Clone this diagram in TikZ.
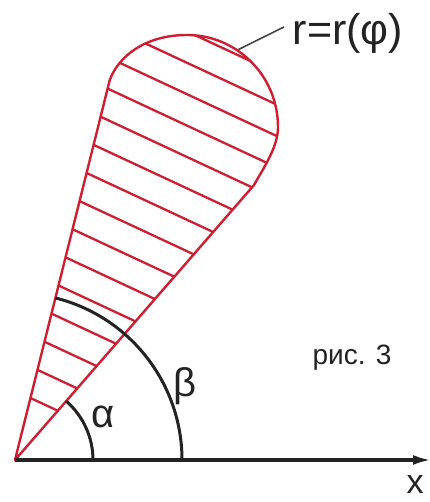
\documentclass[tikz,border=0pt]{standalone}
\usepackage{fontspec}
\setmainfont{Liberation Sans}
\usetikzlibrary{arrows.meta}
\definecolor{hred}{RGB}{205,30,50}
\definecolor{ink}{RGB}{35,35,35}
\begin{document}
\begin{tikzpicture}[x=1pt,y=1pt,
  redline/.style={draw=hred, line width=2.4pt, line join=round},
  hatchline/.style={draw=hred, line width=2.3pt},
  arcline/.style={draw=ink, line width=3pt},
  axisline/.style={draw=ink, line width=3.2pt, -{Latex[length=18pt,width=10pt]}},
  leader/.style={draw=ink!85, line width=1.6pt},
  lbl/.style={text=ink, inner sep=0pt}]
\useasboundingbox (0,0) rectangle (429,502);
\fill[white] (0,0) rectangle (429,502);
\coordinate (O) at (15,42);
\coordinate (A) at (253.8,316.7);
\coordinate (R) at (278,375);
\coordinate (T) at (187,467);
\coordinate (B) at (109.8,422.1);
\coordinate (axisend) at (431,42);
\coordinate (lead) at (238.5,452.5);
\coordinate (leadend) at (284,475);
% hatching
\begin{scope}
  \clip (O) -- (A) .. controls (263.6,334) and (278,355) .. (R)
        .. controls (278,426) and (237,467) .. (T)
        .. controls (145,467) and (118.5,445.5) .. (B) -- cycle;
  \foreach \k in {0,...,16} {
    \draw[hatchline] (0,118.2+31.4*\k) -- ++(-25:700);
  }
\end{scope}
% outline
\draw[redline] (O) -- (A) .. controls (263.6,334) and (278,355) .. (R)
        .. controls (278,426) and (237,467) .. (T)
        .. controls (145,467) and (118.5,445.5) .. (B) -- cycle;
% angle arcs
\draw[arcline] (O) ++(78,0) arc[start angle=0, end angle=49, radius=78];
\draw[arcline] (O) ++(167,0) arc[start angle=0, end angle=76, radius=167];
% axis
\draw[axisline] (O) -- (axisend);
% labels
\node[lbl, font=\fontsize{40}{44}\selectfont] (alpha) at (103.5,85) {α};
\node[lbl, font=\fontsize{40}{44}\selectfont] (beta) at (185,116) {β};
\node[lbl, font=\fontsize{28}{32}\selectfont] (fig) at (352,144) {рис. 3};
\node[lbl, font=\fontsize{43}{48}\selectfont] (rlabel) at (348,469) {r=r(φ)};
\node[lbl, font=\fontsize{34}{38}\selectfont] (xlabel) at (415,17) {x};
\draw[leader] (lead) -- (leadend);
\end{tikzpicture}
\end{document}
